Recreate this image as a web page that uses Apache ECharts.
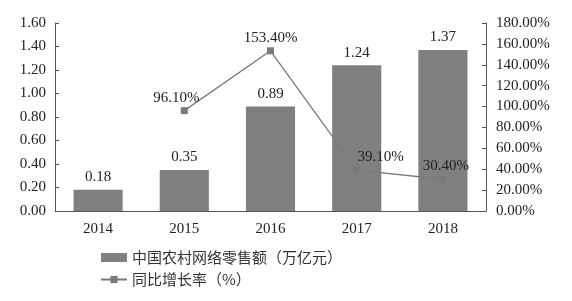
<!DOCTYPE html>
<html><head><meta charset="utf-8">
<script src="https://cdn.jsdelivr.net/npm/echarts@6/dist/echarts.min.js"></script>
<style>html,body{margin:0;padding:0;background:#fff}#c{width:572px;height:301px}</style>
</head><body><div id="c"></div>
<script>
const categories = ['2014','2015','2016','2017','2018'];
const salesValues = [0.18, 0.35, 0.89, 1.24, 1.37];
const growthValues = [null, 96.10, 153.40, 39.10, 30.40];
const barName = '中国农村网络零售额（万亿元）';
const lineName = '同比增长率（%）';

const labelOffsets = [[0,0],[-8,0],[0,0],[24,0],[3,0]];
const serif = '"Liberation Serif","Times New Roman",serif';
const cjk = '"Noto Sans CJK SC",sans-serif';

const chart = echarts.init(document.getElementById('c'));
chart.setOption({
  animation: false,
  backgroundColor: '#fff',
  grid: {left: 55, right: 86, top: 23, bottom: 90},
  legend: {
    orient: 'vertical', left: 95, top: 245, itemGap: 7,
    itemWidth: 26, itemHeight: 9,
    textStyle: {fontFamily: cjk, fontSize: 15, color: '#333'},
    data: [{name: barName, icon: 'rect'}, {name: lineName}]
  },
  xAxis: {
    type: 'category', data: categories,
    axisLine: {lineStyle: {color: '#555'}},
    axisTick: {show: false},
    axisLabel: {fontFamily: serif, fontSize: 15, color: '#222', margin: 11}
  },
  yAxis: [{
    type: 'value', min: 0, max: 1.6, interval: 0.2,
    axisLine: {show: true, lineStyle: {color: '#555'}},
    axisTick: {show: true, inside: true, length: 4, lineStyle: {color: '#555'}},
    splitLine: {show: false},
    axisLabel: {fontFamily: serif, fontSize: 15, color: '#222', margin: 9, formatter: v => v.toFixed(2)}
  }, {
    type: 'value', min: 0, max: 180, interval: 20,
    axisLine: {show: true, lineStyle: {color: '#555'}},
    axisTick: {show: true, inside: true, length: 4, lineStyle: {color: '#555'}},
    splitLine: {show: false},
    axisLabel: {fontFamily: serif, fontSize: 15, color: '#222', margin: 10, formatter: v => v.toFixed(2) + '%'}
  }],
  series: [{
    name: barName, type: 'bar', data: salesValues, barWidth: '57%',
    itemStyle: {color: '#808080'},
    label: {show: true, position: 'top', distance: 5, fontFamily: serif, fontSize: 15, color: '#222', formatter: p => p.value.toFixed(2)}
  }, {
    name: lineName, type: 'line', yAxisIndex: 1,
    data: growthValues.map((v, i) => ({value: v, label: {offset: labelOffsets[i]}})),
    symbol: 'rect', symbolSize: 7,
    lineStyle: {color: '#7a7a7a', width: 1.3},
    itemStyle: {color: '#7a7a7a'},
    label: {show: true, position: 'top', distance: 2, fontFamily: serif, fontSize: 15, color: '#222', formatter: p => p.value.toFixed(2) + '%'}
  }]
});
</script></body></html>
